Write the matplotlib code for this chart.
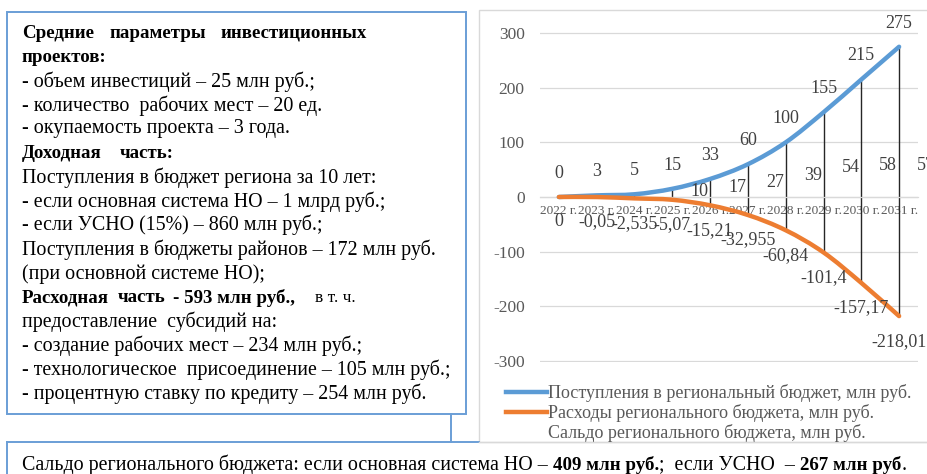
import matplotlib
matplotlib.use("Agg")
import matplotlib.pyplot as plt
import numpy as np
from matplotlib.lines import Line2D
from matplotlib.patches import Rectangle, PathPatch
from matplotlib.path import Path

# ---------------- data ----------------
years = ["2022 г.", "2023 г.", "2024 г.", "2025 г.", "2026 г.",
         "2027 г.", "2028 г.", "2029 г.", "2030 г.", "2031 г."]
revenues = [0, 3, 5, 15, 33, 60, 100, 155, 215, 275]
expenses = [0, -0.05, -2.535, -5.07, -15.21, -32.955, -60.84, -101.4, -157.17, -218.01]
expense_labels = ["0", "-0,05", "-2,535", "-5,07", "-15,21", "-32,955",
                  "-60,84", "-101,4", "-157,17", "-218,01"]
saldo = [0, 3, 2, 10, 17, 27, 39, 54, 58, 57]
saldo_shown = [False, False, False, True, True, True, True, True, True, True]
series_names = ["Поступления в региональный бюджет, млн руб.",
                "Расходы регионального бюджета, млн руб.",
                "Сальдо регионального бюджета, млн руб."]
yticks = [-300, -200, -100, 0, 100, 200, 300]

left_lines = [
    [("Средние", "bold", 22), ("параметры", "bold", 110), ("инвестиционных", "bold", 221)],
    [("проектов:", "bold", 22)],
    [("- объем инвестиций – 25 млн руб.;", "normal", 22)],
    [("- количество  рабочих мест – 20 ед.", "normal", 22)],
    [("- окупаемость проекта – 3 года.", "normal", 22)],
    [("Доходная", "bold", 22), ("часть:", "bold", 120)],
    [("Поступления в бюджет региона за 10 лет:", "normal", 22)],
    [("- если основная система НО – 1 млрд руб.;", "normal", 22)],
    [("- если УСНО (15%) – 860 млн руб.;", "normal", 22)],
    [("Поступления в бюджеты районов – 172 млн руб.", "normal", 22)],
    [("(при основной системе НО);", "normal", 22)],
    [("Расходная", "bold", 22), ("часть", "bold", 118), ("- 593 млн руб.,", "bold", 173),
     ("в т. ч.", "small", 315)],
    [("предоставление  субсидий на:", "normal", 22)],
    [("- создание рабочих мест – 234 млн руб.;", "normal", 22)],
    [("- технологическое  присоединение – 105 млн руб.;", "normal", 22)],
    [("- процентную ставку по кредиту – 254 млн руб.", "normal", 22)],
]
left_y = [33, 58, 82, 106, 129, 154, 178, 202, 225, 250, 274, 298, 322, 346, 370, 394]

bottom_pieces = [("Сальдо регионального бюджета: если основная система НО –", "normal"),
                 ("409 млн руб.", "bold"),
                 (";  если УСНО  –", "normal"),
                 ("267 млн руб", "bold"),
                 (".", "normal")]

# ---------------- figure ----------------
W, H = 928, 474
fig = plt.figure(figsize=(W / 100, H / 100), dpi=100)
FONT = "Liberation Serif"
BLUE = "#5B9BD5"
ORANGE = "#ED7D31"
GRAY = "#595959"
BOXBLUE = "#6A9ED6"
REG = 14.4
BOLD = 13.6

def fx(px):
    return px / W

def fy(py):
    return 1 - py / H

# boxes / frames
fig.patches.append(Rectangle((fx(479), fy(442)), fx(W - 479 + 5), (442 - 10) / H,
                             transform=fig.transFigure, fill=False,
                             edgecolor="#D9D9D9", lw=1.0))
fig.patches.append(Rectangle((fx(7), fy(414)), fx(466 - 7), (414 - 12) / H,
                             transform=fig.transFigure, fill=False,
                             edgecolor=BOXBLUE, lw=1.4))
fig.lines.append(Line2D([fx(451), fx(451)], [fy(414), fy(442)],
                        transform=fig.transFigure, color=BOXBLUE, lw=1.4))
fig.lines.append(Line2D([fx(7), fx(479)], [fy(442), fy(442)],
                        transform=fig.transFigure, color=BOXBLUE, lw=1.4))
fig.lines.append(Line2D([fx(7), fx(7)], [fy(442), fy(480)],
                        transform=fig.transFigure, color=BOXBLUE, lw=1.4))
fig.lines.append(Line2D([fx(479), fx(W + 5)], [fy(442), fy(442)],
                        transform=fig.transFigure, color="#D9D9D9", lw=1.0))

# ---------------- chart ----------------
ax = fig.add_axes([fx(540), fy(362), fx(918 - 540), (362 - 32) / H])
x = np.arange(len(years)) + 0.5
ax.set_xlim(0, len(years))
ax.set_ylim(-302, 302)
ax.set_yticks(yticks)
ax.set_yticklabels([str(v) for v in yticks], fontfamily=FONT, fontsize=12.5, color=GRAY)
ax.tick_params(axis="y", length=0, pad=11)
ax.grid(axis="y", color="#D9D9D9", lw=0.9)
ax.set_axisbelow(True)
for s in ["top", "right", "left"]:
    ax.spines[s].set_visible(False)
ax.spines["bottom"].set_position(("data", 0))
ax.spines["bottom"].set_color("#D9D9D9")
ax.spines["bottom"].set_linewidth(0.9)
ax.set_xticks(x)
ax.set_xticklabels(years, fontfamily=FONT, fontsize=9.5, color=GRAY)
ax.tick_params(axis="x", length=0, pad=6)

ax.vlines(x, expenses, revenues, color="#262626", lw=1.0, zorder=2)


def smooth_path(xs, ys):
    """Bezier (Catmull-Rom style) path through the data points, like Excel smoothing."""
    pts = np.column_stack([xs, ys]).astype(float)
    n = len(pts)
    verts = [pts[0]]
    codes = [Path.MOVETO]
    for i in range(n - 1):
        p0 = pts[i - 1] if i > 0 else pts[i]
        p1 = pts[i]
        p2 = pts[i + 1]
        p3 = pts[i + 2] if i + 2 < n else pts[i + 1]
        c1 = p1 + (p2 - p0) / 6.0
        c2 = p2 - (p3 - p1) / 6.0
        verts += [c1, c2, p2]
        codes += [Path.CURVE4] * 3
    return Path(verts, codes)


for vals, col in [(revenues, BLUE), (expenses, ORANGE)]:
    ax.add_patch(PathPatch(smooth_path(x, vals), facecolor="none", edgecolor=col,
                           lw=3.2, capstyle="round", joinstyle="round", zorder=3))

LBL = "#404040"
LS = 13
for xi, v in zip(x, revenues):
    ax.annotate(str(v), (xi, v), xytext=(0, 17), textcoords="offset points",
                ha="center", va="center", fontfamily=FONT, fontsize=LS, color=LBL,
                annotation_clip=False)
for xi, v, t in zip(x, expenses, expense_labels):
    ax.annotate(t, (xi, v), xytext=(0, -18), textcoords="offset points",
                ha="center", va="center", fontfamily=FONT, fontsize=LS, color=LBL,
                annotation_clip=False)
for xi, v, show in zip(x, saldo, saldo_shown):
    if show:
        ax.annotate(str(v), (xi, v), xytext=(13, 0), textcoords="offset points",
                    ha="left", va="center", fontfamily=FONT, fontsize=LS, color=LBL,
                    annotation_clip=False)

handles = [Line2D([], [], color=BLUE, lw=3.2),
           Line2D([], [], color=ORANGE, lw=3.2),
           Line2D([], [], color="none", lw=0)]
leg = fig.legend(handles, series_names, loc="upper left",
                 bbox_to_anchor=(fx(506), fy(384)), frameon=False,
                 prop={"family": FONT, "size": 13}, labelcolor=GRAY,
                 handlelength=2.25, handletextpad=0.1, labelspacing=0.12,
                 borderaxespad=0, borderpad=0)

# ---------------- text boxes ----------------
renderer = fig.canvas.get_renderer()

for pieces, yy in zip(left_lines, left_y):
    for txt, kind, xx in pieces:
        weight = "bold" if kind == "bold" else "normal"
        size = {"bold": BOLD, "small": 12.5}.get(kind, REG)
        fig.text(fx(xx), fy(yy), txt, fontfamily=FONT, fontsize=size,
                 fontweight=weight, ha="left", va="center", color="black")

def text_w(s, weight, size):
    t = fig.text(0, 0, s, fontfamily=FONT, fontsize=size, fontweight=weight)
    w = t.get_window_extent(renderer).width
    t.remove()
    return w

space_w = text_w("a a", "normal", REG) - text_w("aa", "normal", REG)
cx = 22
gaps = [True, False, True, False, False]
for (txt, weight), gap in zip(bottom_pieces, gaps):
    size = BOLD if weight == "bold" else REG
    t = fig.text(fx(cx), fy(465), txt, fontfamily=FONT, fontsize=size,
                 fontweight=weight, ha="left", va="center", color="black")
    cx += t.get_window_extent(renderer).width
    if gap:
        cx += space_w

fig.savefig("out.png", dpi=100)
